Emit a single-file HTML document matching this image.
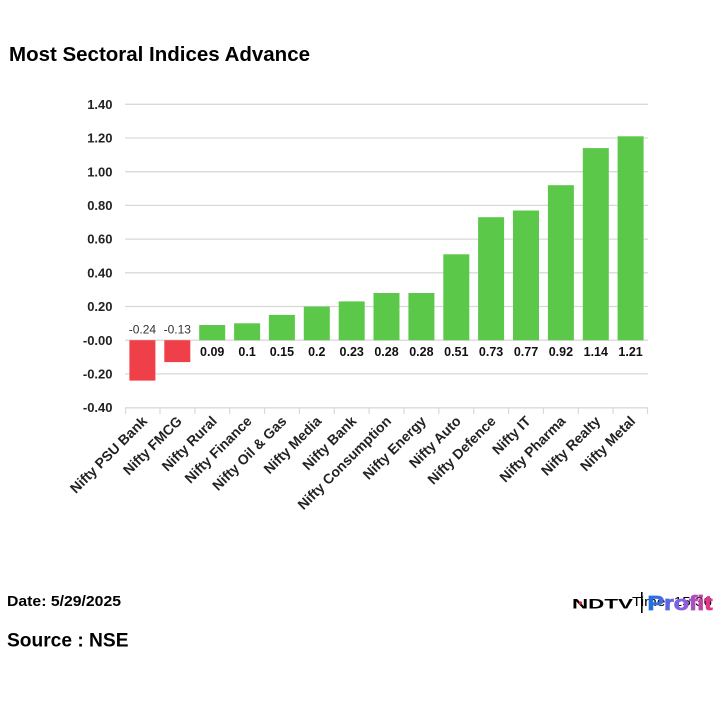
<!DOCTYPE html>
<html><head><meta charset="utf-8"><style>
html,body{margin:0;padding:0;background:#fff;}
svg{display:block;}
text{font-family:"Liberation Sans",Arial,sans-serif;}
</style></head><body>
<svg width="720" height="720" viewBox="0 0 720 720" xmlns="http://www.w3.org/2000/svg">
<defs>
<linearGradient id="pg" x1="0" y1="0" x2="1" y2="0">
<stop offset="0" stop-color="#1a72e0"/><stop offset="0.55" stop-color="#8a60e0"/><stop offset="1" stop-color="#e8307a"/>
</linearGradient>
</defs>
<rect width="720" height="720" fill="#fff"/>
<text x="9" y="61" font-size="20.5" font-weight="bold" fill="#000" textLength="301" lengthAdjust="spacingAndGlyphs">Most Sectoral Indices Advance</text>

<g stroke="#d9d9d9" stroke-width="1.3">
<line x1="125" y1="104.3" x2="648" y2="104.3"/>
<line x1="125" y1="138" x2="648" y2="138"/>
<line x1="125" y1="171.7" x2="648" y2="171.7"/>
<line x1="125" y1="205.4" x2="648" y2="205.4"/>
<line x1="125" y1="239.1" x2="648" y2="239.1"/>
<line x1="125" y1="272.8" x2="648" y2="272.8"/>
<line x1="125" y1="306.5" x2="648" y2="306.5"/>
<line x1="125" y1="340.2" x2="648" y2="340.2"/>
<line x1="125" y1="373.9" x2="648" y2="373.9"/>
<line x1="125" y1="407.8" x2="648" y2="407.8"/>
</g>
<g stroke="#d9d9d9" stroke-width="1.2">
<line x1="125.5" y1="408" x2="125.5" y2="414"/>
<line x1="160" y1="408" x2="160" y2="414"/>
<line x1="194.9" y1="408" x2="194.9" y2="414"/>
<line x1="229.7" y1="408" x2="229.7" y2="414"/>
<line x1="264.6" y1="408" x2="264.6" y2="414"/>
<line x1="299.4" y1="408" x2="299.4" y2="414"/>
<line x1="334.3" y1="408" x2="334.3" y2="414"/>
<line x1="369.1" y1="408" x2="369.1" y2="414"/>
<line x1="404" y1="408" x2="404" y2="414"/>
<line x1="438.8" y1="408" x2="438.8" y2="414"/>
<line x1="473.7" y1="408" x2="473.7" y2="414"/>
<line x1="508.6" y1="408" x2="508.6" y2="414"/>
<line x1="543.4" y1="408" x2="543.4" y2="414"/>
<line x1="578.3" y1="408" x2="578.3" y2="414"/>
<line x1="613.1" y1="408" x2="613.1" y2="414"/>
<line x1="647.5" y1="408" x2="647.5" y2="414"/>
</g>

<g font-size="13" font-weight="bold" fill="#222" text-anchor="end">
<text x="112.5" y="108.9">1.40</text>
<text x="112.5" y="142.6">1.20</text>
<text x="112.5" y="176.3">1.00</text>
<text x="112.5" y="210">0.80</text>
<text x="112.5" y="243.7">0.60</text>
<text x="112.5" y="277.4">0.40</text>
<text x="112.5" y="311.1">0.20</text>
<text x="112.5" y="344.8">-0.00</text>
<text x="112.5" y="378.5">-0.20</text>
<text x="112.5" y="412.2">-0.40</text>
</g>

<g fill="#ef4049">
<rect x="129.4" y="340.2" width="26" height="40.4"/>
<rect x="164.3" y="340.2" width="26" height="21.9"/>
</g>
<g fill="#5cc84a">
<rect x="199.2" y="325" width="26" height="15.2"/>
<rect x="234.1" y="323.3" width="26" height="16.9"/>
<rect x="268.9" y="314.9" width="26" height="25.3"/>
<rect x="303.8" y="306.5" width="26" height="33.7"/>
<rect x="338.7" y="301.4" width="26" height="38.8"/>
<rect x="373.5" y="293" width="26" height="47.2"/>
<rect x="408.4" y="293" width="26" height="47.2"/>
<rect x="443.3" y="254.3" width="26" height="85.9"/>
<rect x="478.1" y="217.2" width="26" height="123"/>
<rect x="513" y="210.5" width="26" height="129.7"/>
<rect x="547.9" y="185.2" width="26" height="155"/>
<rect x="582.8" y="148.1" width="26" height="192.1"/>
<rect x="617.6" y="136.3" width="26" height="203.9"/>
</g>

<g font-size="12" fill="#333" text-anchor="middle">
<text x="142.4" y="333.3">-0.24</text>
<text x="177.3" y="333.3">-0.13</text>
</g>
<g font-size="12.5" font-weight="bold" fill="#111" text-anchor="middle">
<text x="212.2" y="356">0.09</text>
<text x="247.1" y="356">0.1</text>
<text x="281.9" y="356">0.15</text>
<text x="316.8" y="356">0.2</text>
<text x="351.7" y="356">0.23</text>
<text x="386.5" y="356">0.28</text>
<text x="421.4" y="356">0.28</text>
<text x="456.3" y="356">0.51</text>
<text x="491.1" y="356">0.73</text>
<text x="526" y="356">0.77</text>
<text x="560.9" y="356">0.92</text>
<text x="595.8" y="356">1.14</text>
<text x="630.6" y="356">1.21</text>
</g>

<g font-size="14" font-weight="bold" fill="#222" text-anchor="end">
<text transform="translate(148,422) rotate(-45)">Nifty PSU Bank</text>
<text transform="translate(182.8,422) rotate(-45)">Nifty FMCG</text>
<text transform="translate(217.7,422) rotate(-45)">Nifty Rural</text>
<text transform="translate(252.6,422) rotate(-45)">Nifty Finance</text>
<text transform="translate(287.4,422) rotate(-45)">Nifty Oil &amp; Gas</text>
<text transform="translate(322.3,422) rotate(-45)">Nifty Media</text>
<text transform="translate(357.2,422) rotate(-45)">Nifty Bank</text>
<text transform="translate(392,422) rotate(-45)">Nifty Consumption</text>
<text transform="translate(426.9,422) rotate(-45)">Nifty Energy</text>
<text transform="translate(461.8,422) rotate(-45)">Nifty Auto</text>
<text transform="translate(496.6,422) rotate(-45)">Nifty Defence</text>
<text transform="translate(531.5,422) rotate(-45)">Nifty IT</text>
<text transform="translate(566.4,422) rotate(-45)">Nifty Pharma</text>
<text transform="translate(601.3,422) rotate(-45)">Nifty Realty</text>
<text transform="translate(636.1,422) rotate(-45)">Nifty Metal</text>
</g>

<text x="7" y="606" font-size="15" font-weight="bold" fill="#000" textLength="114" lengthAdjust="spacingAndGlyphs">Date: 5/29/2025</text>
<text x="7" y="646.5" font-size="19" font-weight="bold" fill="#000" textLength="121.5" lengthAdjust="spacingAndGlyphs">Source : NSE</text>

<text x="632" y="606" font-size="13" fill="#000" textLength="80" lengthAdjust="spacingAndGlyphs">Time: 15:36</text>
<text x="572" y="608.5" font-size="14" font-weight="bold" fill="#000" textLength="61" lengthAdjust="spacingAndGlyphs">NDTV</text>
<circle cx="580.5" cy="603" r="1.6" fill="#e02020"/>
<rect x="641" y="592" width="1.6" height="21" fill="#000"/>
<text x="647.5" y="610" font-size="20" font-weight="bold" fill="url(#pg)" stroke="url(#pg)" stroke-width="0.8" textLength="65" lengthAdjust="spacingAndGlyphs">Profit</text>
</svg>
</body></html>
